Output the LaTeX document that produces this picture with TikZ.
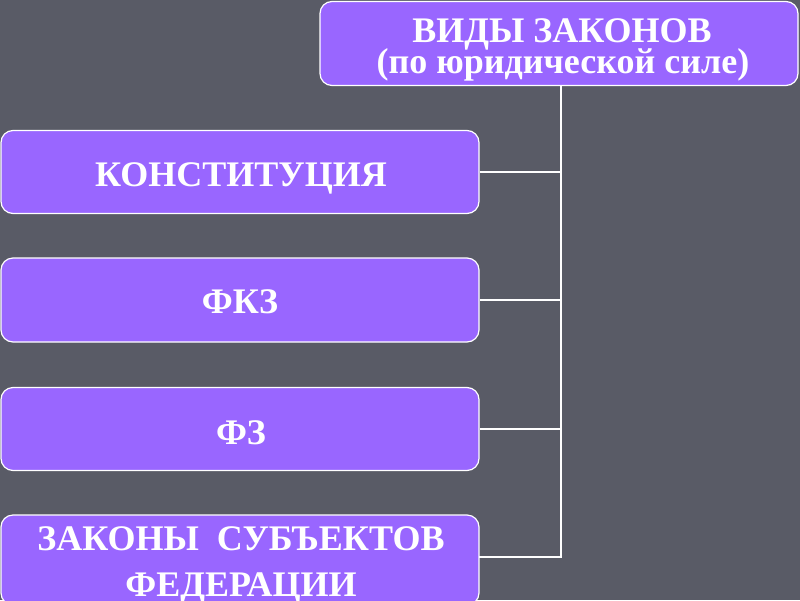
\documentclass[tikz,border=0pt]{standalone}
\usepackage{fontspec}
\setmainfont{Liberation Serif}
\definecolor{bg}{HTML}{595B66}
\definecolor{box}{HTML}{9966FF}
\begin{document}
\begin{tikzpicture}[x=1pt,y=-1pt,
  lawbox/.style={draw=white, line width=1.2pt, fill=box, rounded corners=12pt,
    inner sep=0pt, minimum width=478pt},
  lawtext/.style={text=white, font=\bfseries\fontsize{36}{40}\selectfont, anchor=base, inner sep=0pt},
  wire/.style={draw=white, line width=1.6pt}]
\fill[bg] (0,0) rectangle (800,600);
\useasboundingbox (0,0) rectangle (800,600);
\node[lawbox, minimum height=84pt] (top) at (559,43.5) {};
\node[lawbox, minimum height=83pt] (k1) at (240,172) {};
\node[lawbox, minimum height=84pt] (k2) at (240,300) {};
\node[lawbox, minimum height=83pt] (k3) at (240,429) {};
\node[lawbox, minimum height=90pt] (k4) at (240,560) {};
\node[lawtext] (t0a) at (562,42) {ВИДЫ ЗАКОНОВ};
\node[lawtext] (t0b) at (563,73) {(по юридической силе)};
\node[lawtext] (t1) at (241,186) {КОНСТИТУЦИЯ};
\node[lawtext] (t2) at (240,313) {ФКЗ};
\node[lawtext] (t3) at (241,444) {ФЗ};
\node[lawtext] (t4a) at (241,550) {ЗАКОНЫ\ \ СУБЪЕКТОВ};
\node[lawtext] (t4b) at (241,596) {ФЕДЕРАЦИИ};
\coordinate (bus) at (561,557);
\draw[wire] (top.south -| bus) -- (bus);
\draw[wire] (k1.east) -- (k1.east -| bus);
\draw[wire] (k2.east) -- (k2.east -| bus);
\draw[wire] (k3.east) -- (k3.east -| bus);
\draw[wire, line cap=rect] (k4.east |- bus) -- (bus);
\end{tikzpicture}
\end{document}
